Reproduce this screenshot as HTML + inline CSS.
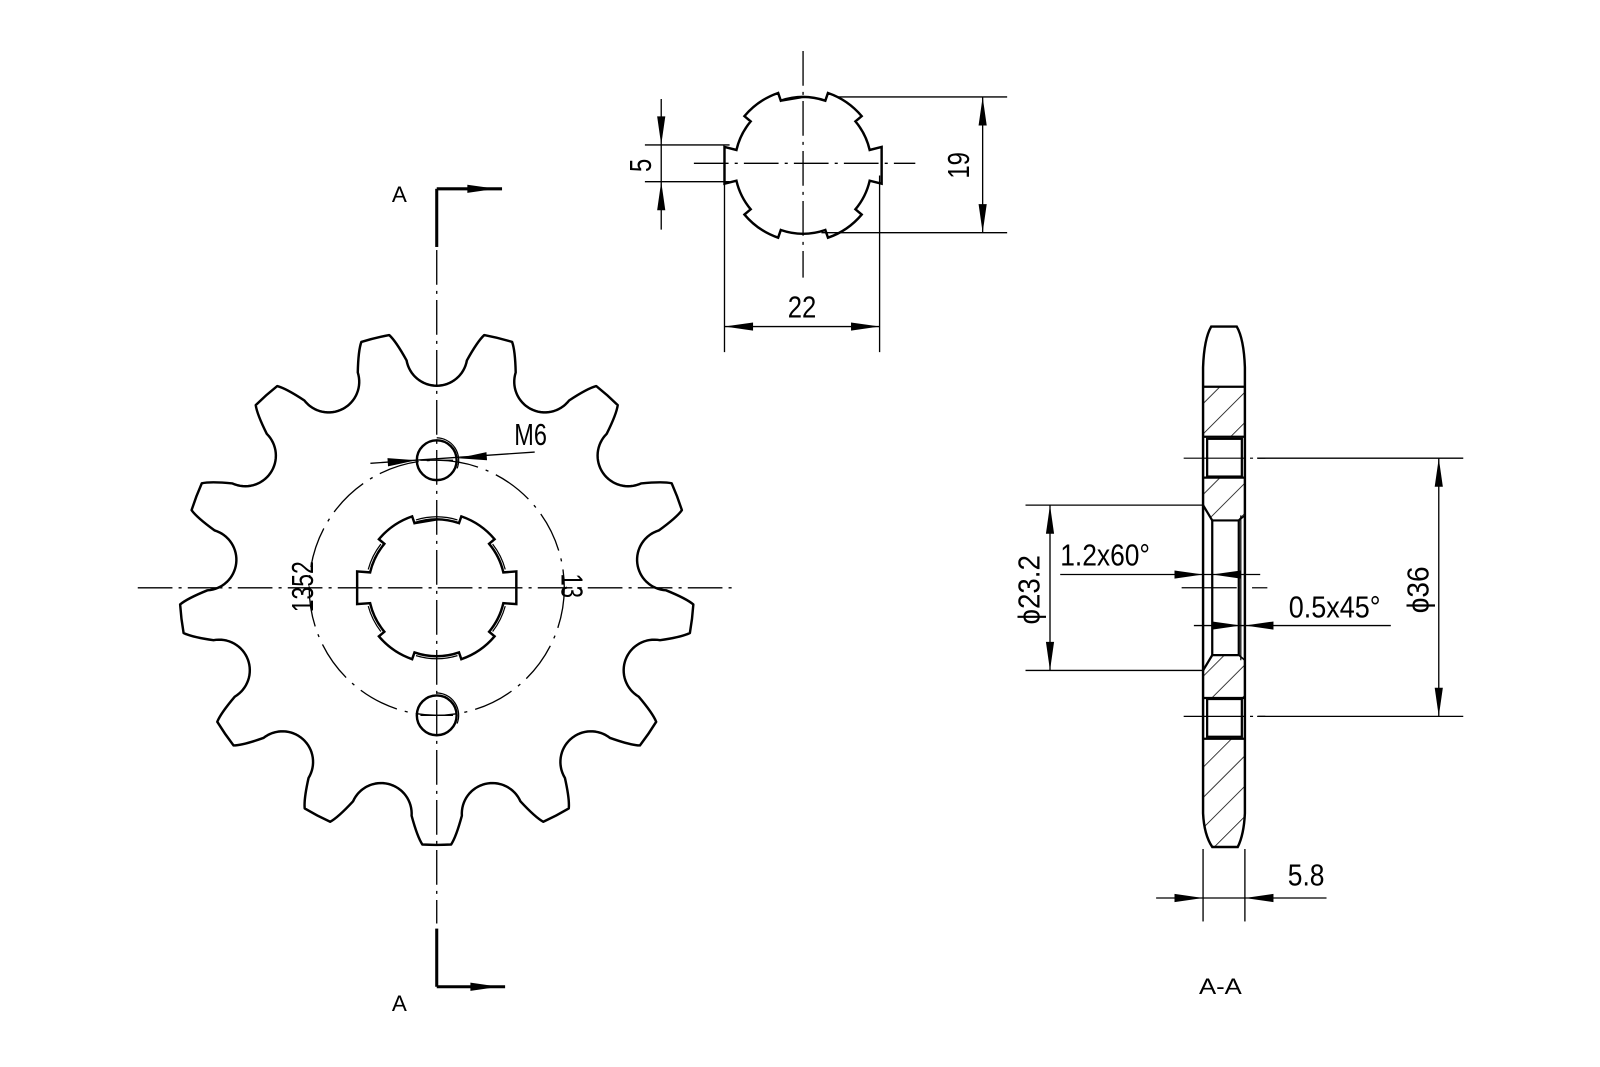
<!DOCTYPE html>
<html><head><meta charset="utf-8"><style>
html,body{margin:0;padding:0;background:#fff;}
svg{display:block;}
text{font-family:"Liberation Sans Narrow","Liberation Sans",sans-serif;fill:#000;}
</style></head><body>
<svg id="s" width="1600" height="1067" viewBox="0 0 1568 1045.6" xmlns="http://www.w3.org/2000/svg">
<defs>
<pattern id="h" patternUnits="userSpaceOnUse" width="21" height="21" patternTransform="rotate(45)">
<line x1="0" y1="0" x2="0" y2="21" stroke="#000" stroke-width="1.5"/>
</pattern>
</defs>
<rect width="1568" height="1046" fill="#fff"/>
<g id="g" fill="none" stroke="#000" stroke-linecap="butt"></g>
<g font-size="30">
<text x="504" y="436" textLength="32" lengthAdjust="spacingAndGlyphs">M6</text>
<text transform="translate(297,575) rotate(-90)" text-anchor="middle" dominant-baseline="central" textLength="50" lengthAdjust="spacingAndGlyphs">1352</text>
<text transform="translate(560,574) rotate(90)" text-anchor="middle" dominant-baseline="central" textLength="24" lengthAdjust="spacingAndGlyphs">13</text>
<text x="786" y="311" text-anchor="middle" textLength="28" lengthAdjust="spacingAndGlyphs">22</text>
<text transform="translate(940,162) rotate(-90)" text-anchor="middle" dominant-baseline="central" textLength="26" lengthAdjust="spacingAndGlyphs">19</text>
<text transform="translate(628,162) rotate(-90)" text-anchor="middle" dominant-baseline="central" textLength="13" lengthAdjust="spacingAndGlyphs">5</text>
<text transform="translate(1009,578) rotate(-90)" text-anchor="middle" dominant-baseline="central" textLength="68" lengthAdjust="spacingAndGlyphs">ϕ23.2</text>
<text x="1039" y="554" textLength="88" lengthAdjust="spacingAndGlyphs">1.2x60°</text>
<text x="1263" y="605" textLength="90" lengthAdjust="spacingAndGlyphs">0.5x45°</text>
<text transform="translate(1390,578) rotate(-90)" text-anchor="middle" dominant-baseline="central" textLength="46" lengthAdjust="spacingAndGlyphs">ϕ36</text>
<text x="1280" y="868" text-anchor="middle" textLength="36" lengthAdjust="spacingAndGlyphs">5.8</text>
</g>
<g font-size="22">
<text x="384" y="198">A</text>
<text x="384" y="991">A</text>
<text x="1196" y="974" text-anchor="middle" textLength="42" lengthAdjust="spacingAndGlyphs">A-A</text>
</g>
</svg>
<script>
const g=document.getElementById('g');const NS='http://www.w3.org/2000/svg';
function el(t,a){const e=document.createElementNS(NS,t);for(const k in a)e.setAttribute(k,a[k]);g.appendChild(e);return e;}
function L(x1,y1,x2,y2,w,dash){const a={x1,y1,x2,y2,'stroke-width':w||1.3};if(dash)a['stroke-dasharray']=dash;return el('line',a);}
const DD='34 6 3 6';
function P(cx,cy,r,d){const a=d*Math.PI/180;return[cx+r*Math.sin(a),cy-r*Math.cos(a)];}
function f(p){return p[0].toFixed(2)+','+p[1].toFixed(2);}
function arrow(x,y,dx,dy){const l=28,w=4;const px=-dy,py=dx;
 el('polygon',{points:`${x},${y} ${x-dx*l+px*w},${y-dy*l+py*w} ${x-dx*l-px*w},${y-dy*l-py*w}`,fill:'#000',stroke:'none'});}
// sprocket
(function(){const cx=428,cy=576,R=252,d=228,rr=30,p=360/13,th=3.2;let s='';
 for(let k=0;k<13;k++){const A=k*p,ar=A*Math.PI/180;const C=P(cx,cy,d,A);
  const u=[-Math.sin(ar),Math.cos(ar)],t=[Math.cos(ar),Math.sin(ar)];
  for(let b=-80;b<=80;b+=5){const br=b*Math.PI/180;const q=[C[0]+rr*(Math.cos(br)*u[0]+Math.sin(br)*t[0]),C[1]+rr*(Math.cos(br)*u[1]+Math.sin(br)*t[1])];
   s+=(s===''?'M':'L')+f(q);}
  const c1=P(cx,cy,R,A+p/2-th),c2=P(cx,cy,R,A+p/2+th);
  s+='Q'+f(P(cx,cy,245,A+9.4))+' '+f(c1);
  s+='A'+R+','+R+' 0 0 1 '+f(c2);
  // to next seat start
  const A2=A+p,ar2=A2*Math.PI/180,C2=P(cx,cy,d,A2),u2=[-Math.sin(ar2),Math.cos(ar2)],t2=[Math.cos(ar2),Math.sin(ar2)];
  const br=-80*Math.PI/180;const q2=[C2[0]+rr*(Math.cos(br)*u2[0]+Math.sin(br)*t2[0]),C2[1]+rr*(Math.cos(br)*u2[1]+Math.sin(br)*t2[1])];
  s+='Q'+f(P(cx,cy,245,A2-9.4))+' '+f(q2);}
 el('path',{d:s+'Z','stroke-width':2.4,'stroke-linejoin':'round'});})();
// spline
function spline(cx,cy,ri,ro,rf,hf,w,dbl){let s='M'+f(P(cx,cy,ri,-19));
 const arc=(r,a)=>'A'+r+','+r+' 0 0 1 '+f(P(cx,cy,r,a));
 s+=arc(ri,19)+'L'+f(P(cx,cy,ro,19))+arc(ro,50)+'L'+f(P(cx,cy,ri,50))+arc(ri,77);
 s+=`L${cx+rf},${cy-hf}L${cx+rf},${cy+hf}L`+f(P(cx,cy,ri,103))+arc(ri,130)+'L'+f(P(cx,cy,ro,130))+arc(ro,161)+'L'+f(P(cx,cy,ri,161))+arc(ri,199)+'L'+f(P(cx,cy,ro,199))+arc(ro,230)+'L'+f(P(cx,cy,ri,230))+arc(ri,257);
 s+=`L${cx-rf},${cy+hf}L${cx-rf},${cy-hf}L`+f(P(cx,cy,ri,283))+arc(ri,310)+'L'+f(P(cx,cy,ro,310))+arc(ro,341)+'L'+f(P(cx,cy,ri,341))+arc(ri,379-18.99);
 el('path',{d:s+'Z','stroke-width':w,'stroke-linejoin':'miter'});
 if(dbl){const r2=ri+2.5;[[-17,17],[52,75],[105,128],[163,197],[232,255],[285,308]].forEach(([a,b])=>{
  el('path',{d:'M'+f(P(cx,cy,r2,a))+'A'+r2+','+r2+' 0 0 1 '+f(P(cx,cy,r2,b)),'stroke-width':1.2});});}
}
spline(428,576,67,74,78,16,2.4,true);
spline(787,162,67,75,77,18,2.4,false);
// main centerlines
L(135,576,722,576,1.3,DD);L(428,245,428,905,1.3,DD);
el('circle',{cx:428,cy:576,r:125,'stroke-width':1.3,'stroke-dasharray':'40 8 3 8'});
// holes
[451,701].forEach(y=>{el('circle',{cx:428,cy:y,r:19.5,'stroke-width':2.4});el('path',{d:`M428,${y-22}A22,22 0 0 1 ${428+20},${y+8}`,'stroke-width':1.2});L(412,y,444,y,1.2);});
// M6 leader
L(363,454,524,443,1.3);arrow(408,451,1,-0.07);arrow(449,449,-1,0.07);
// section markers
L(428,185,428,242,3);L(428,185,492,185,3);arrow(486,185,1,0);
L(428,910,428,967,3);L(428,967,495,967,3);arrow(489,967,1,0);
// small view centerlines & dims
L(787,50,787,272,1.3,DD);L(680,160,897,160,1.3,DD);
L(820,95,987,95);L(805,228,987,228);L(963,95,963,228);arrow(963,95,0,-1);arrow(963,228,0,1);
L(632,142,715,142);L(632,178,715,178);L(648,97,648,225);arrow(648,142,0,1);arrow(648,178,0,-1);
L(710,172,710,345);L(862,172,862,345);L(710,320,862,320);arrow(710,320,-1,0);arrow(862,320,1,0);
// section view
const hatch=(pts)=>el('polygon',{points:pts,fill:'url(#h)',stroke:'none'});
hatch('1179,379 1220,379 1220,428 1179,428');
hatch('1179,468 1220,468 1220,505 1214,510 1188,510 1179,495');
hatch('1179,684 1220,684 1220,647 1214,642 1188,642 1179,657');
el('path',{d:'M1179,724 L1220,724 L1220,797 Q1219,818 1213,830 L1188,830 Q1180,818 1179,797Z',fill:'url(#h)',stroke:'none'});
el('path',{d:'M1179,797 L1179,360 Q1180,332 1187,320 L1212,320 Q1219,332 1220,360 L1220,797 Q1219,818 1213,830 L1188,830 Q1180,818 1179,797Z','stroke-width':2.4});
[379,428,468,684,724].forEach(y=>L(1179,y,1220,y,2.2));
el('rect',{x:1183,y:430,width:34,height:37,'stroke-width':2.2});
el('rect',{x:1183,y:685,width:34,height:37,'stroke-width':2.2});
L(1188,510,1214,510,2.2);L(1188,642,1214,642,2.2);
L(1188,510,1188,642,2.2);L(1214,510,1214,642,2.2);L(1216,505,1216,647,1.2);
L(1179,495,1188,510,2.2);L(1179,657,1188,642,2.2);L(1220,505,1214,510,1.6);L(1220,647,1214,642,1.6);
L(1160,449,1240,449,1.2,'60 5 3 5');L(1160,702,1240,702,1.2,'60 5 3 5');
L(1158,576,1212,576,1.2);L(1227,576,1242,576,1.2);
// dims section
L(1005,495,1179,495);L(1005,657,1179,657);L(1029,495,1029,657);arrow(1029,495,0,-1);arrow(1029,657,0,1);
L(1039,563,1235,563);arrow(1179,563,1,0);arrow(1188,563,-1,0);
L(1170,613,1363,613);arrow(1216,613,1,0);arrow(1220,613,-1,0);
L(1232,449,1434,449);L(1232,702,1434,702);L(1410,449,1410,702);arrow(1410,449,0,-1);arrow(1410,702,0,1);
L(1179,832,1179,903);L(1220,832,1220,903);L(1133,880,1300,880);arrow(1179,880,1,0);arrow(1220,880,-1,0);
</script>
</body></html>
